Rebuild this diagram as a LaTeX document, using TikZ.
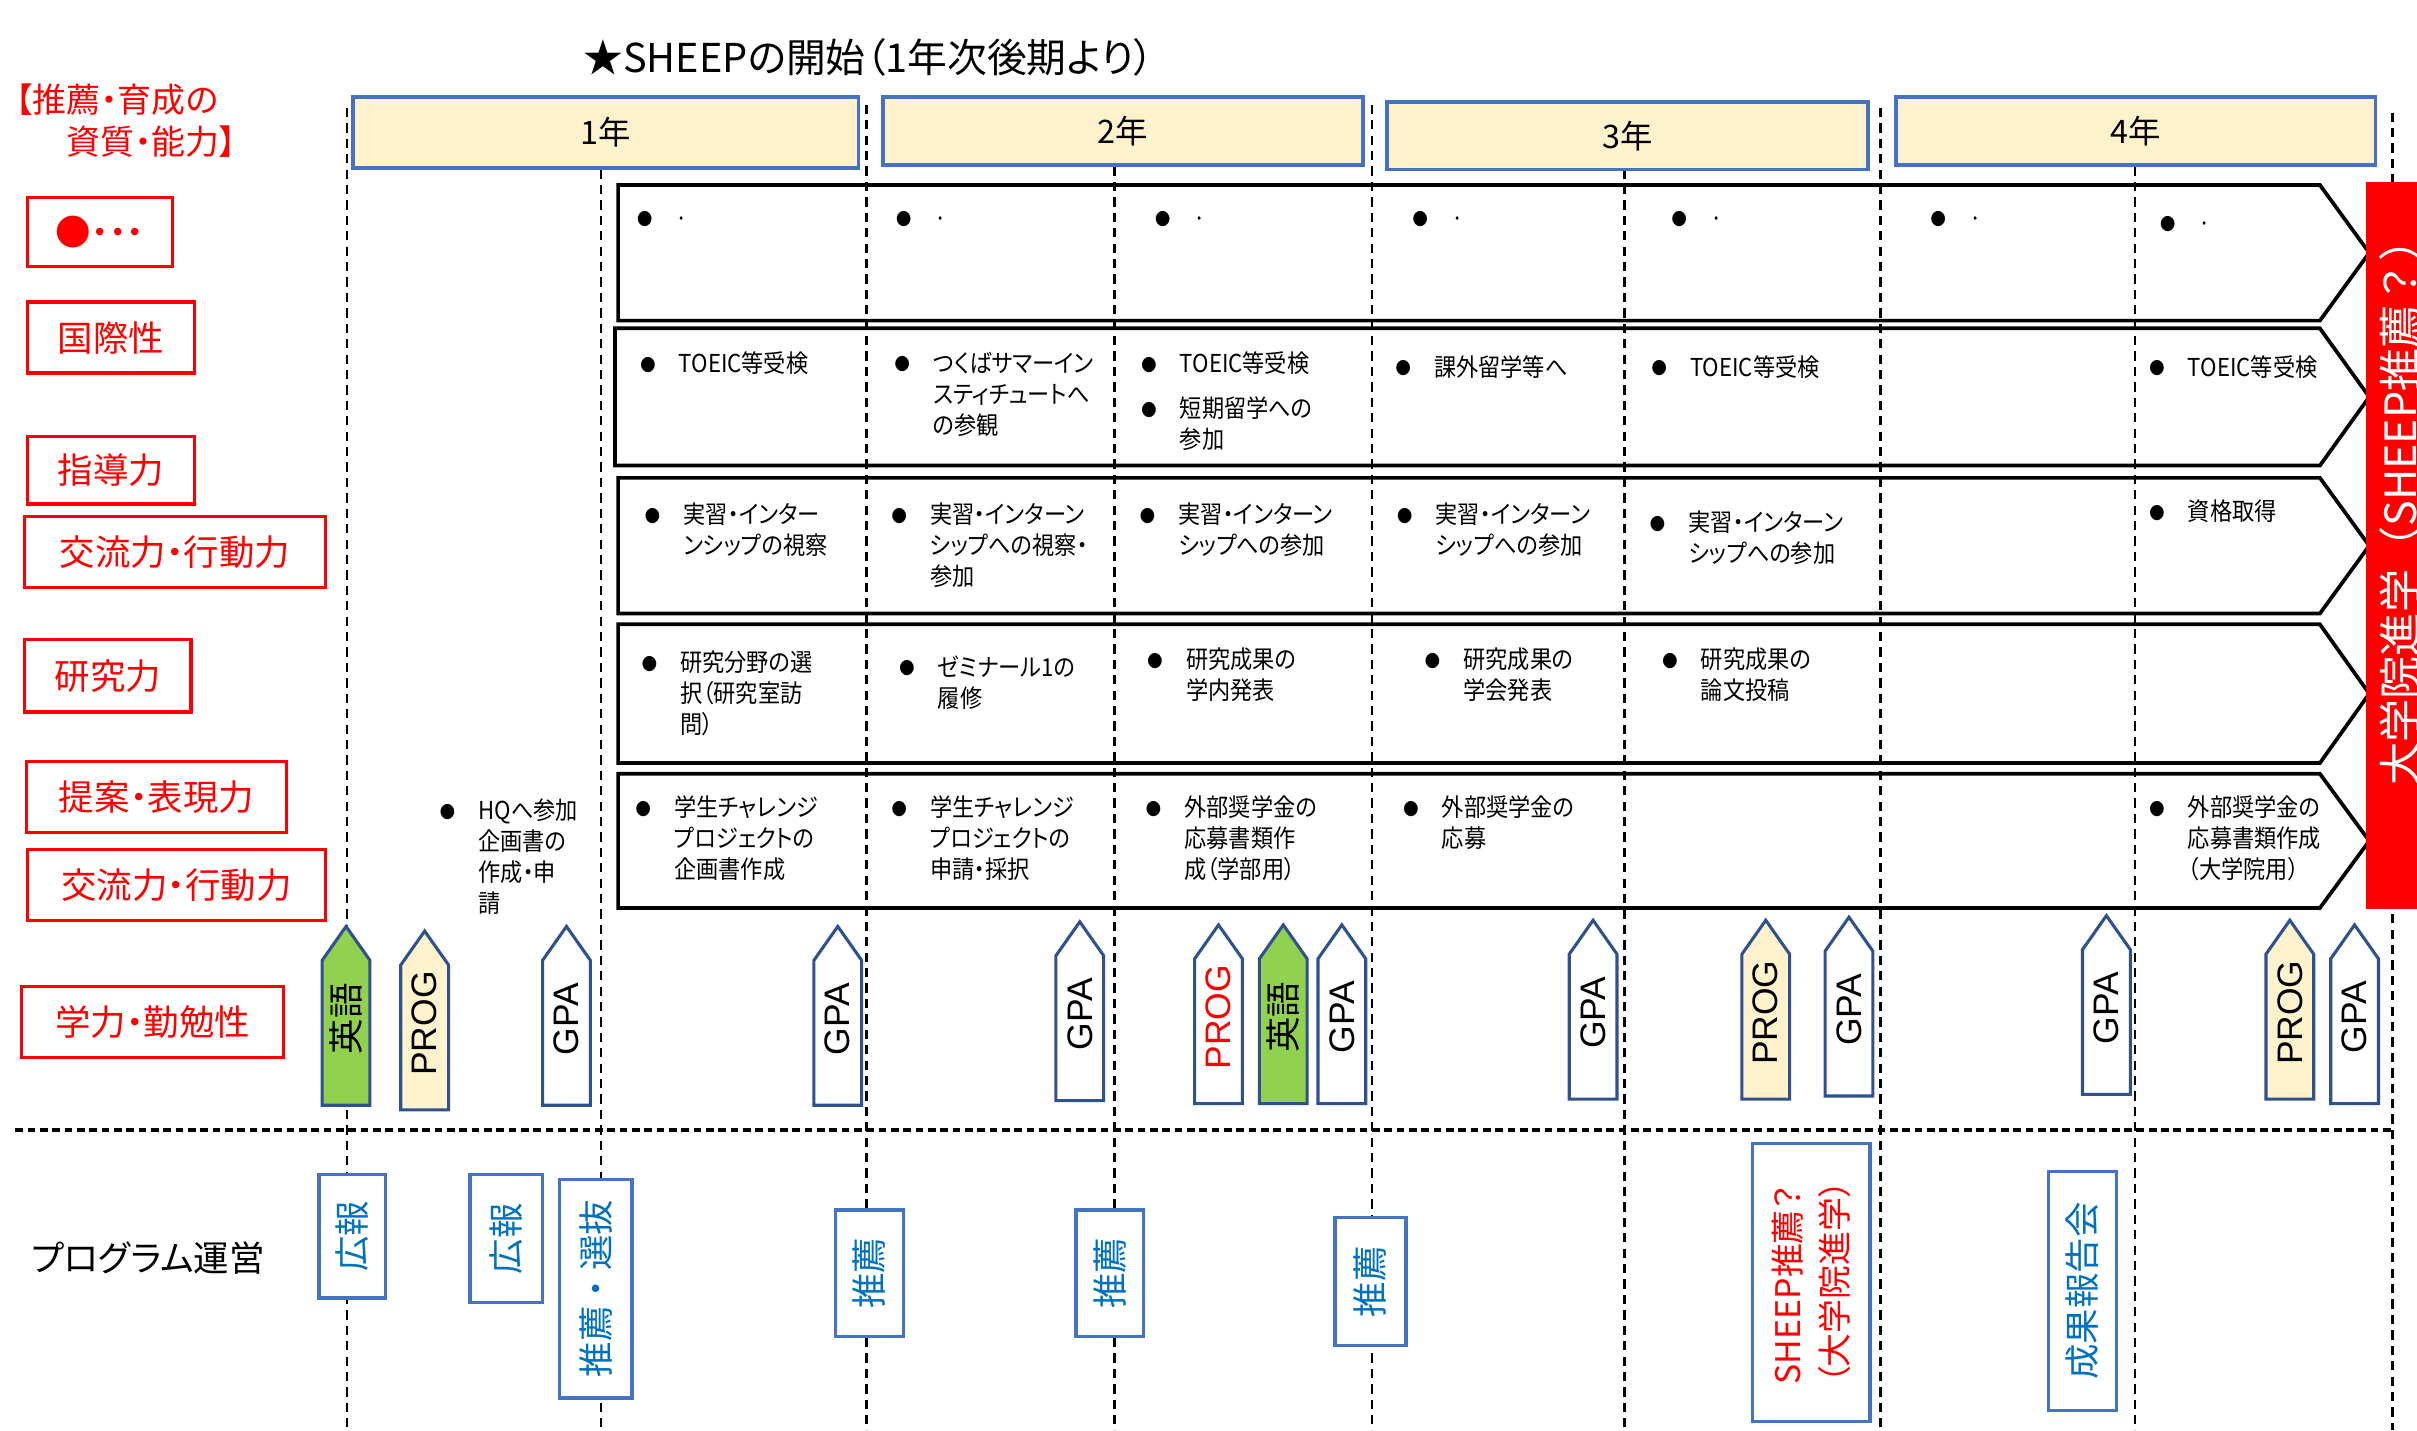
\documentclass[tikz,border=0pt]{standalone}
\usepackage{fontspec}
\setmainfont{Noto Sans CJK JP}[RawFeature=+palt]
\newfontfamily\jpfull{Noto Sans CJK JP}
\newfontfamily\jpnarrow{Noto Sans CJK JP}[RawFeature=+palt,FakeStretch=0.9]
\newfontfamily\arialf{Liberation Sans}

\definecolor{hdrfill}{HTML}{FFF2CC}
\definecolor{hdrline}{HTML}{4472C4}
\definecolor{arrline}{HTML}{2F528F}
\definecolor{engfill}{HTML}{92D050}
\definecolor{opblue}{HTML}{0070C0}

\newcommand\blt{\makebox[12.5pt][l]{\raisebox{0.5pt}{\fontsize{5.5}{5.5}\selectfont ●}}}
\newcommand\ind{\hspace*{12.5pt}}

\tikzset{
  guide/.style={line width=0.8pt, dash pattern=on 3pt off 2pt},
  sepline/.style={line width=1.3pt, dash pattern=on 2.5pt off 1.5pt},
  yearbox/.style={draw=hdrline, fill=hdrfill, line width=1.2pt, inner sep=0pt, font=\fontsize{10.5}{12}\selectfont},
  skill/.style={draw=red, line width=1.1pt, text=red, inner sep=0pt, font=\fontsize{11.5}{13}\selectfont},
  rowarrow/.style={line width=1.2pt, line join=miter},
  item/.style={anchor=north west, align=left, inner sep=0pt, font=\jpnarrow\fontsize{8}{10}\selectfont},
  uparrow/.style={draw=arrline, line width=1pt, line join=miter},
  oplabel/.style={draw=hdrline, line width=1.1pt, fill=white, text=opblue, rotate=90, inner sep=0pt, font=\jpfull\fontsize{11.5}{14}\selectfont},
}

\begin{document}
\begin{tikzpicture}[x=0.5pt, y=-0.5pt]
\useasboundingbox (0,0) rectangle (1568,928);

% semester guides
\foreach \x/\y in {225/70, 390/110, 562/68, 723/108, 890/68, 1054/110, 1220/70, 1385/108, 1552/73}
  \draw[guide] (\x,\y) -- (\x,928);
\draw[sepline] (10,733) -- (1552,733);

\node[anchor=base west, inner sep=0pt, font=\fontsize{12.9}{14}\selectfont] (title) at (378,47) {★SHEEPの開始（1年次後期より）};
\node[anchor=north west, align=left, inner sep=0pt, text=red, font=\fontsize{11}{13.5}\selectfont] (head) at (10,54) {【推薦・育成の\\\hspace*{1.5em}資質・能力】};

\node[yearbox, minimum width=164pt, minimum height=23pt] (year1) at (393,86) {1年};
\node[yearbox, minimum width=155.5pt, minimum height=22pt] (year2) at (728.5,85) {2年};
\node[yearbox, minimum width=156pt, minimum height=22pt] (year3) at (1056,88) {3年};
\node[yearbox, minimum width=155.5pt, minimum height=22pt] (year4) at (1385.5,85) {4年};

% skills
\node[skill, minimum width=47pt, minimum height=22.5pt] (sk0) at (65,150.5) {●・・・};
\node[skill, minimum width=54pt, minimum height=23pt] (sk1) at (72,219) {国際性};
\node[skill, minimum width=54pt, minimum height=22pt] (sk2) at (72,305) {指導力};
\node[skill, minimum width=97.5pt, minimum height=23pt] (sk3) at (113.5,358) {交流力・行動力};
\node[skill, minimum width=54pt, minimum height=23.5pt] (sk4) at (70,438.5) {研究力};
\node[skill, minimum width=84.5pt, minimum height=23pt] (sk5) at (101.5,517) {提案・表現力};
\node[skill, minimum width=96.5pt, minimum height=23pt] (sk6) at (114.5,574) {交流力・行動力};
\node[skill, minimum width=85pt, minimum height=23pt] (sk7) at (99,663) {学力・勤勉性};

\foreach \t/\b/\l in {120/208/401, 213/302/399, 310/398/401, 405/495/401, 502/589/401}
  \draw[rowarrow] (\l,\t) -- (1505,\t) -- (1537,{(\t+\b)/2}) -- (1505,\b) -- (\l,\b) -- cycle;

% row 1
\foreach \x [count=\i] in {413,581,749,916,1084,1252}
  \node[item] (ra\i) at (\x,137) {\blt ·};
\node[item] (ra7) at (1401,140) {\blt ·};

% row 2
\node[item] (rb1) at (415,228) {\blt TOEIC等受検};
\node[item] (rb2) at (580,228) {\blt つくばサマーイン\\\ind スティチュートへ\\\ind の参観};
\node[item] (rb3) at (740,228) {\blt TOEIC等受検\\[4.5pt]\blt 短期留学への\\\ind 参加};
\node[item] (rb4) at (905,230) {\blt 課外留学等へ};
\node[item] (rb5) at (1071,230) {\blt TOEIC等受検};
\node[item] (rb7) at (1394,230) {\blt TOEIC等受検};

% row 3
\node[item] (rc1) at (418,326) {\blt 実習・インター\\\ind ンシップの視察};
\node[item] (rc2) at (578,326) {\blt 実習・インターン\\\ind シップへの視察・\\\ind 参加};
\node[item] (rc3) at (739,326) {\blt 実習・インターン\\\ind シップへの参加};
\node[item] (rc4) at (906,326) {\blt 実習・インターン\\\ind シップへの参加};
\node[item] (rc5) at (1070,331) {\blt 実習・インターン\\\ind シップへの参加};
\node[item] (rc7) at (1394,324) {\blt 資格取得};

% row 4
\node[item] (rd1) at (416,422) {\blt 研究分野の選\\\ind 択（研究室訪\\\ind 問）};
\node[item] (rd2) at (583,425) {\blt ゼミナール1の\\\ind 履修};
\node[item] (rd3) at (744,420) {\blt 研究成果の\\\ind 学内発表};
\node[item] (rd4) at (924,420) {\blt 研究成果の\\\ind 学会発表};
\node[item] (rd5) at (1078,420) {\blt 研究成果の\\\ind 論文投稿};

% row 5
\node[item] (re0) at (285,518) {\blt HQへ参加\\\ind 企画書の\\\ind 作成・申\\\ind 請};
\node[item] (re1) at (412,516) {\blt 学生チャレンジ\\\ind プロジェクトの\\\ind 企画書作成};
\node[item] (re2) at (578,516) {\blt 学生チャレンジ\\\ind プロジェクトの\\\ind 申請・採択};
\node[item] (re3) at (743,516) {\blt 外部奨学金の\\\ind 応募書類作\\\ind 成（学部用）};
\node[item] (re4) at (910,516) {\blt 外部奨学金の\\\ind 応募};
\node[item] (re7) at (1394,516) {\blt 外部奨学金の\\\ind 応募書類作成\\\ind （大学院用）};

% tests
\foreach \x/\t/\f/\l/\c [count=\i] in {209/601/engfill/{\normalfont 英語}/black, 260/604/hdrfill/PROG/black,
    352/601/white/GPA/black, 528/601/white/GPA/black, 685/598/white/GPA/black,
    775/600/white/PROG/red, 817/600/engfill/{\normalfont 英語}/black, 855/600/white/GPA/black,
    1018/597/white/GPA/black, 1130/597/hdrfill/PROG/black, 1184/595/white/GPA/black,
    1351/594/white/GPA/black, 1470/597/hdrfill/PROG/black, 1512/600/white/GPA/black}
{
  \draw[uparrow, fill=\f] (\x,\t+22) -- (\x+15.5,\t) -- (\x+31,\t+22) -- (\x+31,\t+116) -- (\x,\t+116) -- cycle;
  \node[rotate=90, inner sep=0pt, text=\c, font=\arialf\fontsize{11.5}{13}\selectfont] (test\i) at (\x+15.5,\t+60) {\l};
}

% program management
\node[anchor=west, inner sep=0pt, font=\fontsize{11.5}{13}\selectfont] (prog) at (20,816) {プログラム運営};
\node[oplabel, minimum width=40pt, minimum height=21.5pt] (pr1) at (228.5,802) {広報};
\node[oplabel, minimum width=41.5pt, minimum height=23.5pt] (pr2) at (328.5,803.5) {広報};
\node[oplabel, minimum width=71pt, minimum height=23.5pt] (sel) at (386.5,836) {推薦・選抜};
\node[oplabel, minimum width=41pt, minimum height=22pt] (rec1) at (564,826) {推薦};
\node[oplabel, minimum width=41pt, minimum height=22pt] (rec2) at (720,826) {推薦};
\node[oplabel, minimum width=41.5pt, minimum height=23pt] (rec3) at (889,831.5) {推薦};
\node[oplabel, minimum width=90pt, minimum height=38pt, text=red, align=left, font=\fontsize{11}{15}\selectfont] (sheep) at (1175,832) {SHEEP推薦？\\（大学院進学）};
\node[oplabel, minimum width=77.5pt, minimum height=22pt] (report) at (1351,837.5) {成果報告会};

% graduate school
\fill[red] (1535,118) rectangle (1580,590);
\node[rotate=90, anchor=west, inner sep=0pt, text=white, font=\jpfull\fontsize{14}{16}\selectfont] (grad) at (1557,510) {大学院進学（SHEEP推薦？）};

\end{tikzpicture}
\end{document}
